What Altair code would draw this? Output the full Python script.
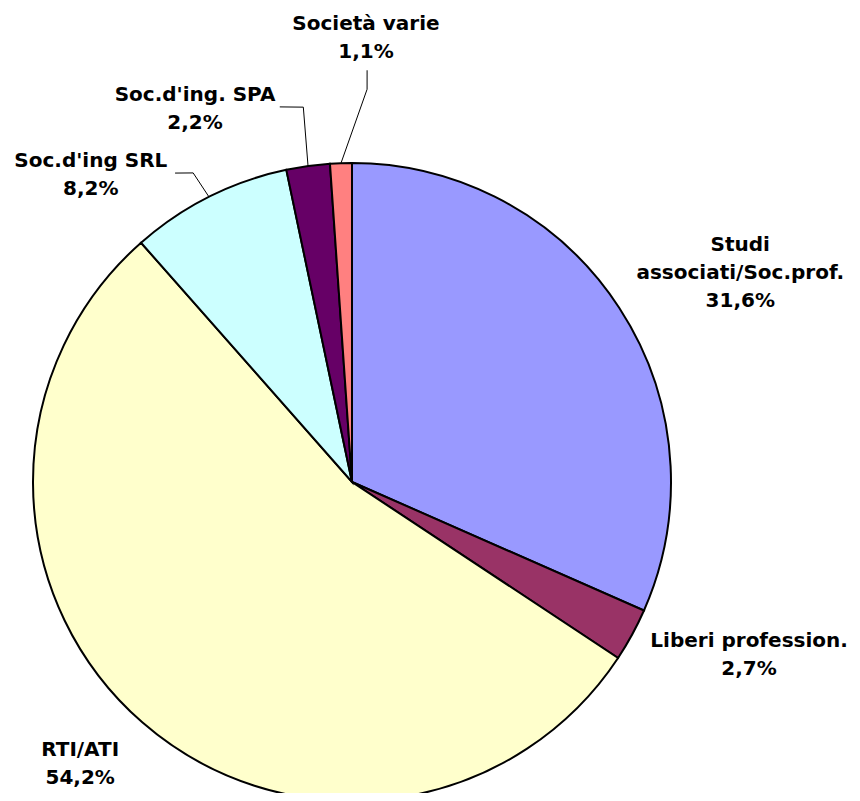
import altair as alt
import pandas as pd
import numpy as np

# ---- data ----
categories = ["Studi associati/Soc.prof.", "Liberi profession.", "RTI/ATI",
              "Soc.d'ing SRL", "Soc.d'ing. SPA", "Società varie"]
label_names = ["Studi\nassociati/Soc.prof.", "Liberi profession.", "RTI/ATI",
               "Soc.d'ing SRL", "Soc.d'ing. SPA", "Società varie"]
values = [31.6, 2.7, 54.2, 8.2, 2.2, 1.1]
colors = ["#9999FF", "#993366", "#FFFFCC", "#CCFFFF", "#660066", "#FF8080"]

# ---- layout (polar placement around the pie centre) ----
CX, CY, R = 344, 474, 319
LH = 28
label_angle = [61.7, 113.5, 223.9, 319.6, 337.2, 1.8]
label_radius = [441, 433, 392, 403, 405, 444]
# leader lines: (category, start angle, start radius, knee angle, knee radius)
leaders = [
    ("Soc.d'ing SRL", 330.2, 356, 332.8, 347.5),
    ("Soc.d'ing. SPA", 349.1, 382, 352.6, 378),
    ("Società varie", 2.1, 412, 2.2, 393),
]

labels = [n + "\n" + f"{v:.1f}".replace(".", ",") + "%" for n, v in zip(label_names, values)]
df = pd.DataFrame({
    "cat": categories,
    "value": values,
    "idx": list(range(len(values))),
    "label": labels,
    "nl": [l.count("\n") for l in labels],
    "la": label_angle,
    "lr": label_radius,
})
cum = np.cumsum(values)
mid = {c: (cs - v / 2) / sum(values) * 360 for c, cs, v in zip(categories, cum, values)}

rows = []
for cat, a1, r1, a2, r2 in leaders:
    rows.append({"cat": cat, "o": 0, "a": a1, "r": r1})
    rows.append({"cat": cat, "o": 1, "a": a2, "r": r2})
    rows.append({"cat": cat, "o": 2, "a": mid[cat], "r": R})
ldf = pd.DataFrame(rows)

arc = alt.Chart(df).mark_arc(x=CX, y=CY, outerRadius=R, stroke="black", strokeWidth=2).encode(
    theta=alt.Theta("value:Q", stack=True),
    order=alt.Order("idx:Q"),
    color=alt.Color("cat:N", scale=alt.Scale(domain=categories, range=colors), legend=None),
)

text = alt.Chart(df).transform_calculate(
    lx=f"{CX} + datum.lr * sin(datum.la * PI / 180)",
    ly=f"{CY} - datum.lr * cos(datum.la * PI / 180) - datum.nl * {LH} / 2",
).mark_text(
    lineBreak="\n", lineHeight=LH, align="center", baseline="middle",
    font="DejaVu Sans", fontWeight="bold", fontSize=20, color="black",
).encode(
    x=alt.X("lx:Q", scale=None, axis=None),
    y=alt.Y("ly:Q", scale=None, axis=None),
    text="label:N",
)

lines = alt.Chart(ldf).transform_calculate(
    px=f"{CX} + datum.r * sin(datum.a * PI / 180)",
    py=f"{CY} - datum.r * cos(datum.a * PI / 180)",
).mark_line(color="black", strokeWidth=1).encode(
    x=alt.X("px:Q", scale=None, axis=None),
    y=alt.Y("py:Q", scale=None, axis=None),
    detail="cat:N",
    order=alt.Order("o:Q"),
)

chart = alt.layer(arc, lines, text).properties(
    width=844, height=785, padding=0, autosize="none"
).configure_view(strokeWidth=0)

chart.save("out.html", embed_options={"renderer": "svg", "actions": False})
